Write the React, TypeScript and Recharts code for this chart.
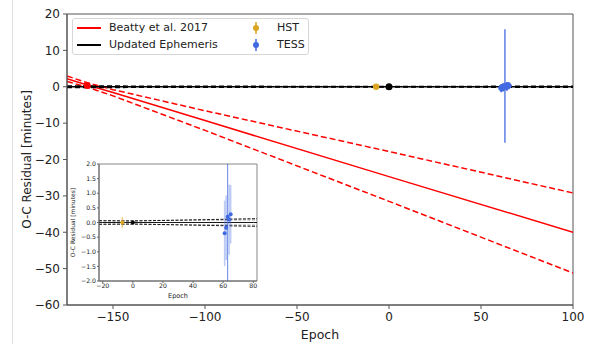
import React from 'react'
import { ComposedChart, Line, Scatter, ErrorBar, XAxis, YAxis, ReferenceArea } from 'recharts'

const FONT = '"DejaVu Sans", Verdana, sans-serif'
const RED = '#ff0000'
const HST_COLOR = '#daa520'
const TESS_COLOR = '#4169e1'

// Beatty et al. 2017 ephemeris projected forward
const beattyEpochs = [-175, -164, -150, -100, 0, 100]
const beattyFit = [2.2, 0.5, -1.6, -9.3, -24.7, -40.0]
const beattyUpper = [2.95, 1.1, -0.8, -6.6, -17.8, -29.2]
const beattyLower = [1.45, -0.1, -2.5, -12.0, -31.5, -51.2]

// updated ephemeris and its 1-sigma envelope
const ephemEpochs = [-175, -20, 0, 80, 100]
const ephemFit = [0, 0, 0, 0, 0]
const ephemUpper = [0.2, 0.06, 0.05, 0.13, 0.15]
const ephemLower = [-0.2, -0.06, -0.05, -0.13, -0.15]
const priorEpochs = [-22.5, 82.5]
const priorUpper = [0.06, 0.09]
const priorLower = [-0.06, -0.09]

// transit times
const beattyPtEpochs = [-164]
const beattyPtResiduals = [0.35]
const beattyPtErrors = [0.6]
const hstEpochs = [-7]
const hstResiduals = [0.0]
const hstErrors = [0.18]
const refEpochs = [0]
const refResiduals = [0.0]
const refErrors = [0.02]
const tessEpochs = [61, 62, 63, 64, 65]
const tessResiduals = [-0.37, -0.18, 0.2, 0.1, 0.28]
const tessErrors = [1.12, 1.1, 15.6, 1.2, 1.0]

// ticks
const mainXTicks = [-150, -100, -50, 0, 50, 100]
const mainYTicks = [-60, -50, -40, -30, -20, -10, 0, 10, 20]
const insetXTicks = [-20, 0, 20, 40, 60, 80]
const insetYTicks = [-2, -1.5, -1, -0.5, 0, 0.5, 1, 1.5, 2]

const toXY = (xs: number[], ys: number[]) => xs.map((x, i) => ({ x, y: ys[i] }))
const toPts = (xs: number[], ys: number[], es: number[]) => xs.map((x, i) => ({ x, y: ys[i], err: es[i] }))

const beattyPts = toPts(beattyPtEpochs, beattyPtResiduals, beattyPtErrors)
const hstPts = toPts(hstEpochs, hstResiduals, hstErrors)
const refPts = toPts(refEpochs, refResiduals, refErrors)
const tessPts = toPts(tessEpochs, tessResiduals, tessErrors)
const tessSmall = tessPts.filter((d) => d.err < 5)
const tessWide = tessPts.filter((d) => d.err >= 5)
// the wide TESS bar as a clipped segment for the zoomed inset
const tessWideBar = tessWide.flatMap((d) => [
  { x: d.x, y: d.y - d.err },
  { x: d.x, y: d.y + d.err },
])

const minus = (s: string) => s.replace('-', '\u2212')
const fmtInt = (v: number) => minus(String(v))
const fmtDec = (v: number) => minus(v.toFixed(1))

const dot = (r: number, fill: string) => (p: any) => <circle cx={p.cx} cy={p.cy} r={r} fill={fill} />

function MainChart() {
  const tick = { fontSize: 12, fill: '#222', fontFamily: FONT }
  return (
    <ComposedChart width={596} height={344} margin={{ top: 14, right: 23, bottom: 0, left: 0 }}>
      <XAxis
        type="number"
        dataKey="x"
        domain={[-175, 100]}
        ticks={mainXTicks}
        allowDataOverflow
        height={39}
        tickSize={4}
        tickMargin={3}
        stroke="#555"
        tick={tick}
        tickFormatter={fmtInt}
        label={{ value: 'Epoch', position: 'insideBottom', offset: 5, fontSize: 12.5, fill: '#222', fontFamily: FONT }}
      />
      <YAxis
        type="number"
        dataKey="y"
        domain={[-60, 20]}
        ticks={mainYTicks}
        allowDataOverflow
        width={67}
        tickSize={4}
        tickMargin={3}
        stroke="#555"
        tick={tick}
        tickFormatter={fmtInt}
        label={{
          value: 'O-C Residual [minutes]',
          angle: -90,
          position: 'insideLeft',
          offset: 27,
          fontSize: 12,
          fill: '#222',
          fontFamily: FONT,
          style: { textAnchor: 'middle' },
        }}
      />
      <ReferenceArea x1={-175} x2={100} y1={-60} y2={20} fill="none" stroke="#555" strokeWidth={1} />

      <Line data={toXY(beattyEpochs, beattyUpper)} dataKey="y" stroke={RED} strokeWidth={1.5} strokeDasharray="6 3" dot={false} isAnimationActive={false} />
      <Line data={toXY(beattyEpochs, beattyLower)} dataKey="y" stroke={RED} strokeWidth={1.5} strokeDasharray="6 3" dot={false} isAnimationActive={false} />
      <Line data={toXY(beattyEpochs, beattyFit)} dataKey="y" stroke={RED} strokeWidth={1.5} dot={false} isAnimationActive={false} />

      <Line data={toXY(ephemEpochs, ephemFit)} dataKey="y" stroke="#000" strokeWidth={1.5} dot={false} isAnimationActive={false} />
      <Line data={toXY(ephemEpochs, ephemUpper)} dataKey="y" stroke="#000" strokeWidth={1.5} strokeDasharray="5 3" dot={false} isAnimationActive={false} />
      <Line data={toXY(ephemEpochs, ephemLower)} dataKey="y" stroke="#000" strokeWidth={1.5} strokeDasharray="5 3" dot={false} isAnimationActive={false} />

      <Scatter data={beattyPts} fill={RED} shape={dot(3.5, RED)} isAnimationActive={false}>
        <ErrorBar dataKey="err" direction="y" width={0} stroke={RED} strokeWidth={1.5} />
      </Scatter>
      <Scatter data={hstPts} fill={HST_COLOR} shape={dot(3.2, HST_COLOR)} isAnimationActive={false}>
        <ErrorBar dataKey="err" direction="y" width={0} stroke={HST_COLOR} strokeWidth={1.5} />
      </Scatter>
      <Scatter data={refPts} fill="#000" shape={dot(3.5, '#000')} isAnimationActive={false} />
      <Scatter data={tessWide} fill={TESS_COLOR} shape={dot(3, TESS_COLOR)} isAnimationActive={false}>
        <ErrorBar dataKey="err" direction="y" width={0} stroke={TESS_COLOR} strokeOpacity={0.85} strokeWidth={1.5} />
      </Scatter>
      <Scatter data={tessSmall} fill={TESS_COLOR} shape={dot(3, TESS_COLOR)} isAnimationActive={false}>
        <ErrorBar dataKey="err" direction="y" width={0} stroke={TESS_COLOR} strokeWidth={2} />
      </Scatter>
    </ComposedChart>
  )
}

function InsetChart() {
  const tick = { fontSize: 6.2, fill: '#222', fontFamily: FONT }
  return (
    <ComposedChart width={210} height={150} margin={{ top: 6, right: 13, bottom: 0, left: 0 }}>
      <XAxis
        type="number"
        dataKey="x"
        domain={[-22.5, 82.5]}
        ticks={insetXTicks}
        allowDataOverflow
        height={27}
        tickSize={2}
        tickMargin={1}
        stroke="#666"
        tick={tick}
        tickFormatter={fmtInt}
        label={{ value: 'Epoch', position: 'insideBottom', offset: 10, fontSize: 6.5, fill: '#222', fontFamily: FONT }}
      />
      <YAxis
        type="number"
        dataKey="y"
        domain={[-2, 2]}
        ticks={insetYTicks}
        allowDataOverflow
        width={39}
        tickSize={2}
        tickMargin={1}
        stroke="#666"
        tick={tick}
        tickFormatter={fmtDec}
        label={{
          value: 'O-C Residual [minutes]',
          angle: -90,
          position: 'insideLeft',
          offset: 13,
          fontSize: 6,
          fill: '#222',
          fontFamily: FONT,
          style: { textAnchor: 'middle' },
        }}
      />
      <ReferenceArea x1={-22.5} x2={82.5} y1={-2} y2={2} fill="#fff" fillOpacity={1} stroke="#888" strokeWidth={1} />

      <Line data={toXY(priorEpochs, priorUpper)} dataKey="y" stroke="#999" strokeWidth={1} strokeDasharray="3 1.5" dot={false} isAnimationActive={false} />
      <Line data={toXY(priorEpochs, priorLower)} dataKey="y" stroke="#999" strokeWidth={1} strokeDasharray="3 1.5" dot={false} isAnimationActive={false} />
      <Line data={toXY(ephemEpochs, ephemFit)} dataKey="y" stroke="#000" strokeWidth={0.9} dot={false} isAnimationActive={false} />
      <Line data={toXY(ephemEpochs, ephemUpper)} dataKey="y" stroke="#000" strokeWidth={0.9} strokeDasharray="3 1.5" dot={false} isAnimationActive={false} />
      <Line data={toXY(ephemEpochs, ephemLower)} dataKey="y" stroke="#000" strokeWidth={0.9} strokeDasharray="3 1.5" dot={false} isAnimationActive={false} />

      <Line data={tessWideBar} dataKey="y" stroke={TESS_COLOR} strokeOpacity={0.8} strokeWidth={1} dot={false} isAnimationActive={false} />

      <Scatter data={hstPts} fill={HST_COLOR} shape={dot(2, HST_COLOR)} isAnimationActive={false}>
        <ErrorBar dataKey="err" direction="y" width={0} stroke={HST_COLOR} strokeOpacity={0.6} strokeWidth={1.5} />
      </Scatter>
      <Scatter data={refPts} fill="#000" shape={dot(2, '#000')} isAnimationActive={false} />
      <Scatter data={tessSmall} fill={TESS_COLOR} shape={dot(2, TESS_COLOR)} isAnimationActive={false}>
        <ErrorBar dataKey="err" direction="y" width={0} stroke={TESS_COLOR} strokeOpacity={0.35} strokeWidth={1.5} />
      </Scatter>
      <Scatter data={tessWide} fill={TESS_COLOR} shape={dot(2, TESS_COLOR)} isAnimationActive={false} />
    </ComposedChart>
  )
}

function LegendBox() {
  const text: React.CSSProperties = { position: 'absolute', lineHeight: '14px', whiteSpace: 'nowrap' }
  const marker = (color: string, top: number) => (
    <svg style={{ position: 'absolute', left: 177, top }} width={12} height={14}>
      <line x1={6} y1={1} x2={6} y2={13} stroke={color} strokeWidth={1.5} />
      <circle cx={6} cy={7} r={3} fill={color} />
    </svg>
  )
  return (
    <div
      style={{
        position: 'absolute',
        left: 72,
        top: 18,
        width: 237,
        height: 37,
        boxSizing: 'border-box',
        border: '1px solid #d6d6d6',
        borderRadius: 3,
        background: 'rgba(255,255,255,0.85)',
        fontFamily: FONT,
        fontSize: 11,
        color: '#222',
      }}
    >
      <div style={{ position: 'absolute', left: 4, top: 8, width: 24, height: 1.5, background: RED }} />
      <div style={{ ...text, left: 36, top: 2 }}>Beatty et al. 2017</div>
      <div style={{ position: 'absolute', left: 4, top: 25, width: 24, height: 1.5, background: '#000' }} />
      <div style={{ ...text, left: 36, top: 19 }}>Updated Ephemeris</div>
      {marker(HST_COLOR, 2)}
      <div style={{ ...text, left: 204, top: 2 }}>HST</div>
      {marker(TESS_COLOR, 19)}
      <div style={{ ...text, left: 204, top: 19 }}>TESS</div>
    </div>
  )
}

export default function App() {
  return (
    <div style={{ position: 'absolute', left: 0, top: 0, width: 596, height: 344, background: '#fff', fontFamily: FONT, overflow: 'hidden' }}>
      <div style={{ position: 'absolute', left: 12, top: 0, width: 1, height: 344, background: '#e0e0e0' }} />
      <div style={{ position: 'absolute', left: 0, top: 0 }}>
        <MainChart />
      </div>
      <div style={{ position: 'absolute', left: 60, top: 158 }}>
        <InsetChart />
      </div>
      <LegendBox />
    </div>
  )
}
